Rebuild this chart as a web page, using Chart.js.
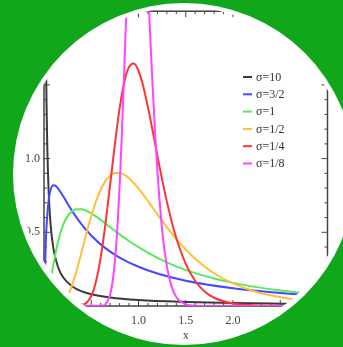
<!DOCTYPE html>
<html>
<head>
<meta charset="utf-8">
<script src="https://cdn.jsdelivr.net/npm/chart.js@4.4.1/dist/chart.umd.min.js"></script>
<style>
  html, body { margin: 0; padding: 0; background: #11a71b; overflow: hidden; }
  #disc { position: absolute; left: 13px; top: 3px; width: 342px; height: 342px; border-radius: 50%; background: #fff; }
  #mychart { position: absolute; left: 0; top: 0; clip-path: circle(166px at 184px 173px); }
</style>
</head>
<body>
<div id="disc"></div>
<canvas id="mychart" width="343" height="347"></canvas>
<script>
"use strict";
// log-normal densities, mu = 0
const LABELS = ["σ=10", "σ=3/2", "σ=1", "σ=1/2", "σ=1/4", "σ=1/8"];
const COLORS = ["#3a3a3a", "#4646ff", "#5ce85c", "#ffbf3c", "#ff3434", "#ff44ff"];

const xS10 = [0.01, 0.02, 0.03, 0.05, 0.07, 0.1, 0.15, 0.2, 0.3, 0.4, 0.5, 0.7, 1.0, 1.5, 2.0, 2.5, 3.0];
const yS10 = [3.59, 1.848, 1.250, 0.763, 0.550, 0.389, 0.261, 0.197, 0.132, 0.099, 0.080, 0.057, 0.040, 0.027, 0.020, 0.016, 0.013];

const xS32 = [0.005, 0.01, 0.02, 0.03, 0.05, 0.07, 0.1, 0.12, 0.15, 0.2, 0.25, 0.3, 0.4, 0.5, 0.6, 0.7, 0.8, 1.0, 1.2, 1.5, 2.0, 2.5, 3.0];
const yS32 = [0.104, 0.239, 0.443, 0.576, 0.724, 0.789, 0.819, 0.816, 0.797, 0.748, 0.694, 0.642, 0.552, 0.478, 0.418, 0.369, 0.329, 0.266, 0.220, 0.171, 0.120, 0.088, 0.068];

const xS1 = [0.03, 0.05, 0.07, 0.1, 0.15, 0.2, 0.25, 0.3, 0.35, 0.4, 0.5, 0.6, 0.7, 0.8, 0.9, 1.0, 1.2, 1.4, 1.6, 1.8, 2.0, 2.25, 2.5, 2.75, 3.0];
const yS1 = [0.028, 0.090, 0.166, 0.282, 0.440, 0.546, 0.610, 0.644, 0.657, 0.656, 0.628, 0.584, 0.535, 0.486, 0.441, 0.399, 0.327, 0.269, 0.223, 0.187, 0.157, 0.128, 0.105, 0.087, 0.073];

const xS12 = [0.15, 0.2, 0.25, 0.3, 0.35, 0.4, 0.45, 0.5, 0.55, 0.6, 0.65, 0.7, 0.75, 0.8, 0.85, 0.9, 1.0, 1.1, 1.2, 1.3, 1.4, 1.5, 1.6, 1.8, 2.0, 2.25, 2.5, 2.75, 3.0];
const yS12 = [0.004, 0.022, 0.068, 0.147, 0.252, 0.372, 0.495, 0.610, 0.710, 0.789, 0.847, 0.884, 0.902, 0.903, 0.890, 0.867, 0.798, 0.712, 0.622, 0.535, 0.454, 0.383, 0.321, 0.222, 0.153, 0.095, 0.060, 0.037, 0.024];

const xS14 = [0.3, 0.4, 0.5, 0.55, 0.6, 0.65, 0.7, 0.75, 0.8, 0.85, 0.9, 0.95, 1.0, 1.05, 1.1, 1.15, 1.2, 1.25, 1.3, 1.35, 1.4, 1.5, 1.6, 1.7, 1.8, 2.0, 2.2, 2.5, 3.0];
const yS14 = [0, 0.005, 0.068, 0.166, 0.330, 0.556, 0.824, 1.097, 1.339, 1.520, 1.622, 1.645, 1.596, 1.491, 1.349, 1.187, 1.019, 0.857, 0.708, 0.575, 0.461, 0.286, 0.170, 0.099, 0.056, 0.017, 0.005, 0.001, 0];

const xS18 = [0.1, 0.6, 0.65, 0.7, 0.72, 0.75, 0.78, 0.8, 0.82, 0.85, 0.88, 0.9, 0.95, 1.0, 1.05, 1.1, 1.12, 1.15, 1.18, 1.2, 1.25, 1.3, 1.35, 1.4, 1.5, 1.6, 1.7, 3.0];
const yS18 = [0, 0.001, 0.013, 0.078, 0.140, 0.301, 0.568, 0.811, 1.104, 1.613, 2.150, 2.486, 3.088, 3.192, 2.817, 2.170, 1.889, 1.485, 1.126, 0.918, 0.519, 0.271, 0.133, 0.061, 0.011, 0.002, 0, 0];

const SERIES = [[xS10, yS10], [xS32, yS32], [xS1, yS1], [xS12, yS12], [xS14, yS14], [xS18, yS18]];

const FONT = "'Liberation Serif', 'DejaVu Serif', serif";
const INK = "#444";

(function() {
    const chart = document.getElementById("mychart");

    //Mathematica-like frame with inward ticks
    const framePlugin = {
        id: "frame",
        beforeDatasetsDraw(c) {
            const {ctx, chartArea: a, scales: {x, y}} = c;
            ctx.save();
            ctx.strokeStyle = INK;
            ctx.lineWidth = 1.5;
            ctx.strokeRect(a.left, a.top, a.right - a.left, a.bottom - a.top);
            ctx.lineWidth = 1;
            ctx.beginPath();
            for (let i = 0; i <= 30; i++) {
                const px = x.getPixelForValue(i / 10);
                const len = i % 5 ? 3 : 6;
                ctx.moveTo(px, a.bottom); ctx.lineTo(px, a.bottom - len);
                ctx.moveTo(px, a.top); ctx.lineTo(px, a.top + len);
            }
            for (let i = 0; i <= 20; i++) {
                const py = y.getPixelForValue(i / 10);
                const len = i % 5 ? 3 : 6;
                ctx.moveTo(a.left, py); ctx.lineTo(a.left + len, py);
                ctx.moveTo(a.right, py); ctx.lineTo(a.right - len, py);
            }
            ctx.stroke();
            ctx.restore();
        }
    };

    //legend inside the plot, top right
    const legendPlugin = {
        id: "innerLegend",
        afterDraw(c) {
            const ctx = c.ctx;
            ctx.save();
            ctx.font = "12px " + FONT;
            ctx.textBaseline = "middle";
            c.data.datasets.forEach((ds, i) => {
                const yy = 77 + i * 17.3;
                ctx.strokeStyle = ds.borderColor;
                ctx.lineWidth = 2;
                ctx.beginPath();
                ctx.moveTo(243, yy); ctx.lineTo(252, yy);
                ctx.stroke();
                ctx.fillStyle = "#333";
                ctx.fillText(ds.label, 256, yy + 0.5);
            });
            ctx.restore();
        }
    };

    new Chart(chart, {
        type: "line",
        data: {
            datasets: SERIES.map(([xs, ys], i) => ({
                label: LABELS[i],
                data: xs.map((v, k) => ({x: v, y: ys[k]})),
                borderColor: COLORS[i],
                borderWidth: 2,
                pointRadius: 0,
                cubicInterpolationMode: "monotone",
                fill: false,
                order: LABELS.length - i
            }))
        },
        options: {
            responsive: false,
            animation: false,
            events: [],
            layout: {padding: {top: 10, right: 8, left: 0, bottom: 0}},
            plugins: {legend: {display: false}, tooltip: {enabled: false}},
            scales: {
                x: {
                    type: "linear",
                    min: 0, max: 3,
                    grid: {display: false, drawTicks: false},
                    border: {display: false},
                    ticks: {stepSize: 0.5, autoSkip: false, padding: 8, color: INK,
                            font: {family: FONT, size: 12},
                            callback: v => v.toFixed(1)},
                    title: {display: true, text: "x", color: INK,
                            font: {family: FONT, size: 12}, padding: {top: 0, bottom: 4}},
                    afterFit: s => { s.height = 41; }
                },
                y: {
                    min: 0, max: 2,
                    grid: {display: false, drawTicks: false},
                    border: {display: false},
                    ticks: {stepSize: 0.5, autoSkip: false, padding: 4, color: INK,
                            font: {family: FONT, size: 12},
                            callback: v => v.toFixed(1)},
                    afterFit: s => { s.width = 44; }
                }
            }
        },
        plugins: [framePlugin, legendPlugin]
    });
})();
</script>
</body>
</html>
